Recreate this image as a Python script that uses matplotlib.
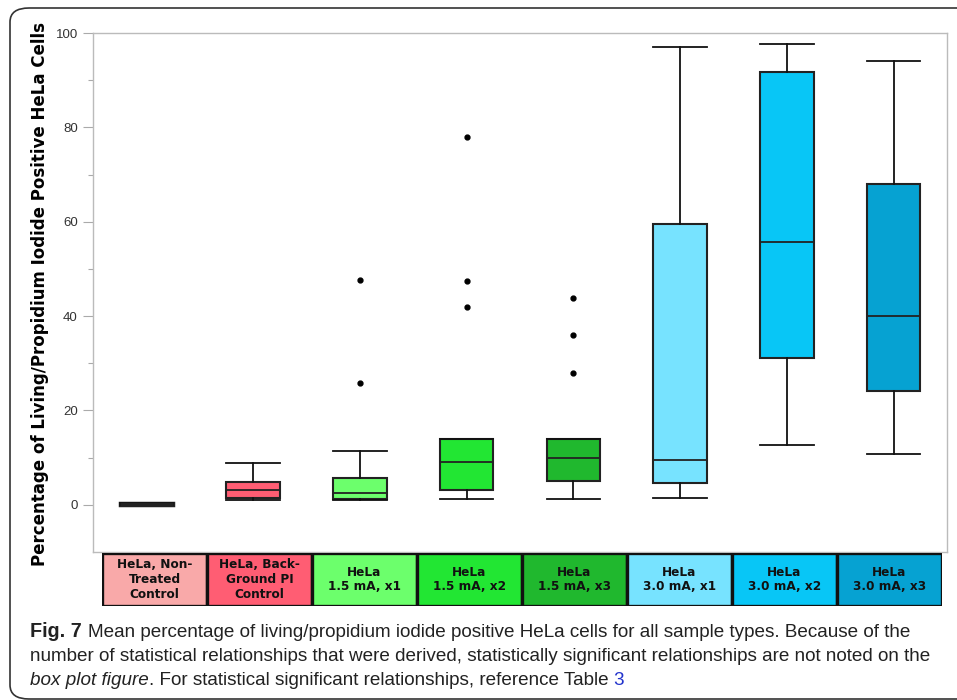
import matplotlib
matplotlib.use('Agg')
import matplotlib.pyplot as plt
from matplotlib.patches import FancyBboxPatch

# group labels (shown in the coloured strip under the plot)
groups = ["HeLa, Non-\nTreated\nControl", "HeLa, Back-\nGround PI\nControl",
          "HeLa\n1.5 mA, x1", "HeLa\n1.5 mA, x2", "HeLa\n1.5 mA, x3",
          "HeLa\n3.0 mA, x1", "HeLa\n3.0 mA, x2", "HeLa\n3.0 mA, x3"]
colors = ["#F9A9A9", "#FF5D73", "#6CFF6C", "#22E633", "#20B82E",
          "#77E3FF", "#08C6F6", "#06A2D2"]

# box statistics (percent)
whis_lo = [0.0, 1.0, 1.1, 1.3, 1.3, 1.5, 12.6, 10.8]
q1 = [0.0, 1.5, 1.2, 3.1, 5.1, 4.6, 31.1, 24.1]
med = [0.1, 3.1, 2.5, 9.0, 10.0, 9.5, 55.7, 40.0]
q3 = [0.3, 4.9, 5.6, 14.0, 14.0, 59.6, 91.8, 67.9]
whis_hi = [0.4, 8.8, 11.5, 14.0, 14.0, 97.0, 97.7, 94.1]
outliers = [[], [], [25.9, 47.7], [42.0, 47.4, 78.0], [28.0, 36.0, 43.8], [], [], []]

yticks = [0, 20, 40, 60, 80, 100]

W, H = 957, 700
fig = plt.figure(figsize=(W / 100, H / 100), dpi=100)

def fx(px):
    return px / W

def fy(py):
    return 1 - py / H

# rounded frame around the figure
frame = FancyBboxPatch((fx(10), fy(699)), fx(990) - fx(10), fy(8) - fy(699),
                       boxstyle="round,pad=0,rounding_size=0.02",
                       transform=fig.transFigure, fill=False,
                       edgecolor="#333333", linewidth=1.2, clip_on=False)
fig.patches.append(frame)

ax = fig.add_axes([fx(93), fy(552), fx(947) - fx(93), fy(33) - fy(552)])

stats = []
for i in range(len(groups)):
    stats.append(dict(whislo=whis_lo[i], q1=q1[i], med=med[i], q3=q3[i],
                      whishi=whis_hi[i], fliers=outliers[i]))

bp = ax.bxp(stats, positions=range(1, len(groups) + 1), widths=0.5,
            patch_artist=True, showfliers=True,
            boxprops=dict(edgecolor="#222222", linewidth=1.5),
            medianprops=dict(color="#222222", linewidth=1.3),
            whiskerprops=dict(color="#111111", linewidth=1.3),
            capprops=dict(color="#111111", linewidth=1.3),
            capwidths=0.5,
            flierprops=dict(marker="o", markersize=3.5, markerfacecolor="black",
                            markeredgecolor="black"))
for patch, c in zip(bp["boxes"], colors):
    patch.set_facecolor(c)
# the untreated control collapses to a line
bp["boxes"][0].set_linewidth(2.5)
bp["medians"][0].set_linewidth(2.5)

ax.set_xlim(0.5, 8.5)
ax.set_ylim(-10, 100)
ax.set_xticks([])
ax.set_yticks(yticks)
ax.set_yticks([10, 30, 50, 70, 90], minor=True)
ax.tick_params(axis="y", which="major", length=7, width=0.8, color="#aaaaaa",
               labelsize=9.5, labelcolor="#333333", pad=4)
ax.tick_params(axis="y", which="minor", length=3.5, width=0.8, color="#aaaaaa")
for s in ax.spines.values():
    s.set_color("#bbbbbb")
    s.set_linewidth(1.0)
for lbl in ax.get_yticklabels():
    lbl.set_fontfamily("Liberation Sans")

fig.text(fx(40), fy(294), "Percentage of Living/Propidium Iodide Positive HeLa Cells",
         rotation=90, ha="center", va="center", fontsize=12, fontweight="bold",
         family="DejaVu Sans")

# coloured strip with the group names
tab = fig.add_axes([fx(102), fy(606), fx(942) - fx(102), fy(553) - fy(606)])
tab.bar(range(len(groups)), [1] * len(groups), width=1.0, bottom=0,
        color=colors, edgecolor="#111111", linewidth=2.4, align="edge")
for i, g in enumerate(groups):
    tab.text(i + 0.5, 0.5, g, ha="center", va="center", fontsize=8.7,
             fontweight="bold", linespacing=1.2, family="DejaVu Sans",
             color="#111111")
tab.set_xlim(0, len(groups))
tab.set_ylim(0, 1)
tab.axis("off")

# caption
cap_font = dict(family="Liberation Sans", fontsize=13.6, color="#222222")
canvas = fig.canvas
canvas.draw()
renderer = canvas.get_renderer()

def put(x, y, s, **kw):
    opts = dict(cap_font)
    opts.update(kw)
    t = fig.text(x, y, s, va="baseline", ha="left", **opts)
    bb = t.get_window_extent(renderer=renderer)
    return x + bb.width / W

x = put(fx(30), fy(637), "Fig. 7", fontweight="bold", fontsize=14.2)
put(x + fx(6), fy(637), "Mean percentage of living/propidium iodide positive HeLa cells "
    "for all sample types. Because of the")
put(fx(30), fy(661), "number of statistical relationships that were derived, statistically "
    "significant relationships are not noted on the")
x = put(fx(30), fy(685), "box plot figure", style="italic")
x = put(x, fy(685), ". For statistical significant relationships, reference Table ")
put(x, fy(685), "3", color="#2233cc")

fig.savefig("out.png", dpi=100)
